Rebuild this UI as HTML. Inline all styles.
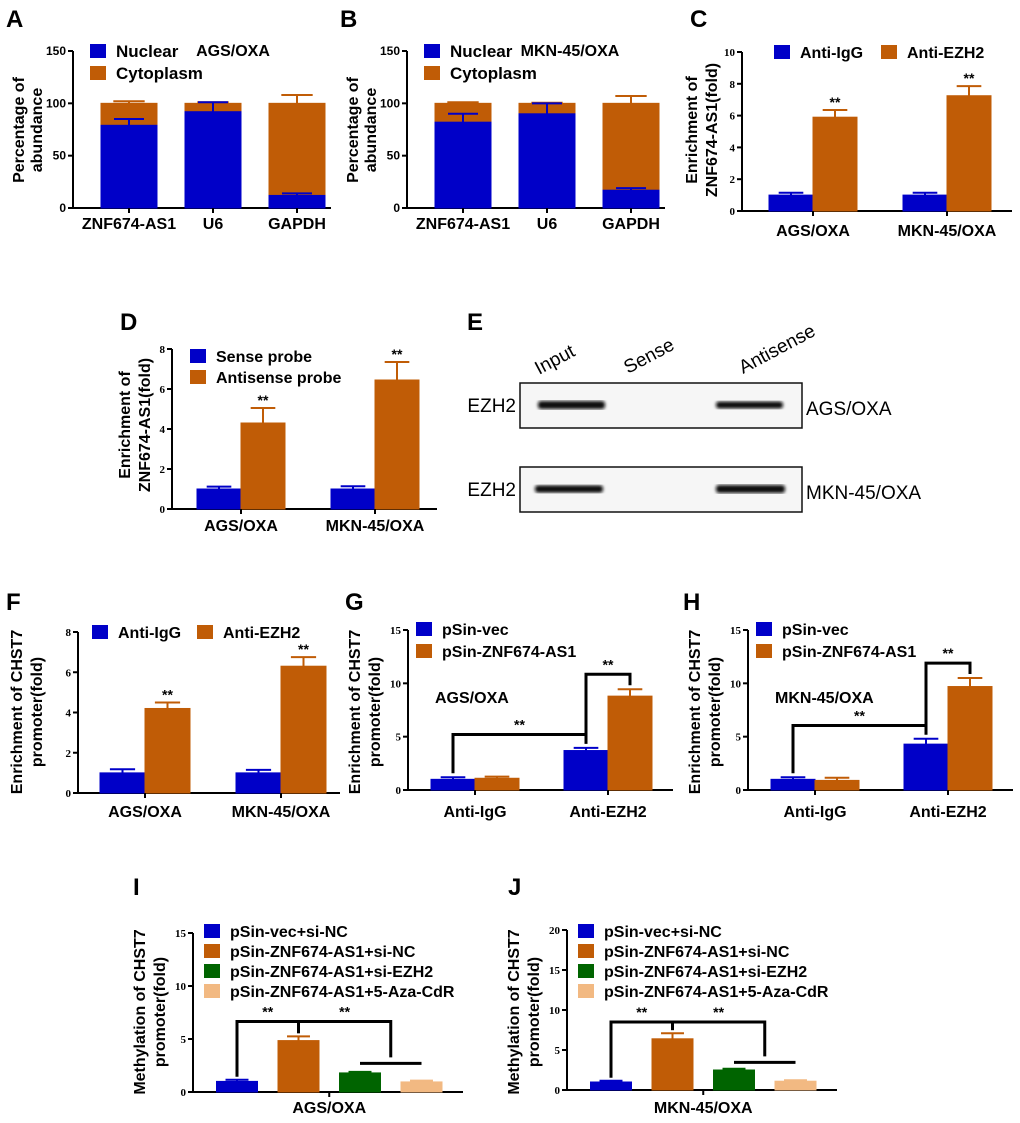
<!DOCTYPE html>
<html><head><meta charset="utf-8"><style>
html,body{margin:0;padding:0;background:#fff;}
svg{display:block;font-family:"Liberation Sans",Arial,sans-serif;}
</style></head><body>
<svg id="fig" width="1020" height="1123" viewBox="0 0 1020 1123" xmlns="http://www.w3.org/2000/svg"></svg>
<script>
// ---- data ----
const abCats = ["ZNF674-AS1","U6","GAPDH"];
const aNuclear = [79, 92, 12];
const aNucErr = [6, 9, 2];
const aCytErr = [2, 1, 8];
const bNuclear = [82, 90, 17];
const bNucErr = [8, 10, 2];
const bCytErr = [1, 0.5, 7];
const abTicks = [0,50,100,150];

const cellCats = ["AGS/OXA","MKN-45/OXA"];
const cIgG = [1, 1];  const cIgGErr = [0.15, 0.15];
const cEZH2 = [5.9, 7.25]; const cEZH2Err = [0.45, 0.6];
const cTicks = [0,2,4,6,8,10];

const dSense = [1, 1]; const dSenseErr = [0.12, 0.14];
const dAnti = [4.3, 6.45]; const dAntiErr = [0.75, 0.9];
const dTicks = [0,2,4,6,8];

const fIgG = [1, 1]; const fIgGErr = [0.18, 0.15];
const fEZH2 = [4.2, 6.3]; const fEZH2Err = [0.3, 0.45];
const fTicks = [0,2,4,6,8];

const ghCats = ["Anti-IgG","Anti-EZH2"];
const gVec = [1, 3.7]; const gVecErr = [0.2, 0.25];
const gZnf = [1.1, 8.8]; const gZnfErr = [0.15, 0.65];
const hVec = [1, 4.3]; const hVecErr = [0.2, 0.5];
const hZnf = [0.9, 9.7]; const hZnfErr = [0.25, 0.8];
const ghTicks = [0,5,10,15];

const ijSeries = ["pSin-vec+si-NC","pSin-ZNF674-AS1+si-NC","pSin-ZNF674-AS1+si-EZH2","pSin-ZNF674-AS1+5-Aza-CdR"];
const iVals = [1.0, 4.85, 1.8, 0.95]; const iErr = [0.15, 0.4, 0.1, 0.12];
const jVals = [1.0, 6.4, 2.5, 1.1]; const jErr = [0.15, 0.7, 0.15, 0.12];
const iTicks = [0,5,10,15];
const jTicks = [0,5,10,15,20];

// ---- helpers ----
const NS="http://www.w3.org/2000/svg";
const svg=document.getElementById('fig');
const BLUE="#0000c8", ORANGE="#c05c06", GREEN="#006400", PEACH="#f2b982";
function el(tag,attrs,parent){const e=document.createElementNS(NS,tag);for(const k in attrs)e.setAttribute(k,attrs[k]);(parent||svg).appendChild(e);return e;}
function txt(s,x,y,size,opts,parent){opts=opts||{};const t=el('text',{x:x,y:y,'font-size':size,'font-weight':opts.w||'bold','text-anchor':opts.a||'middle',fill:'#000','font-family':opts.f||'"Liberation Sans",Arial,sans-serif'},parent);if(opts.r)t.setAttribute('transform','rotate('+opts.r+' '+x+' '+y+')');t.textContent=s;return t;}
function line(x1,y1,x2,y2,w,c,parent){return el('line',{x1:x1,y1:y1,x2:x2,y2:y2,stroke:c||'#000','stroke-width':w||2},parent);}
function yScale(y0,yTop,max){return v=>y0-(v/max)*(y0-yTop);}
function axes(g,x0,x1,y0,yTop,max,ticks,serif){
  const ys=yScale(y0,yTop,max);
  line(x0,yTop,x0,y0+1,2,'#000',g);
  line(x0-1,y0,x1,y0,2,'#000',g);
  ticks.forEach(t=>{const y=ys(t);line(x0-5,y,x0,y,2,'#000',g);
    const tl=txt(String(t),x0-7,y+4,serif?11:12,{a:'end',f:serif?'"Liberation Serif",serif':undefined},g);
    
    });
  return ys;
}
function bar(g,x,w,yv,ys,y0,color,err,name){
  const r=el('rect',{x:x,y:ys(yv),width:w,height:y0-ys(yv),fill:color,stroke:color,'stroke-width':1},g);
  
  
  if(err){const cx=x+w/2, ye=ys(yv+err);line(cx,ys(yv),cx,ye,2,color,g);line(cx-w*0.28,ye,cx+w*0.28,ye,2,color,g);}
  return r;
}
function legendEntry(g,x,y,color,label,size){
  const r=el('rect',{x:x,y:y,width:16,height:14,fill:color},g);
  
  
  const t=txt(label,x+26,y+13,size||16,{a:'start'},g);
  
  
}
function panelLetter(s,x,y){const t=txt(s,x,y,24,{a:'start'});}
function yTitle(g,lines,xs,cy,size){lines.forEach((s,i)=>{const t=txt(s,xs[i],cy,size||16,{r:-90},g);});}
function xLabels(g,cats,centers,y){cats.forEach((c,i)=>{const t=txt(c,centers[i],y,16,{},g);});}
function group(name){const g=el('g',{});return g;}

// ---- Panels A/B (stacked) ----
function stacked(name,x0,nuc,nucErr,cytErr,title,titleX,ytx){
  const g=group(name);
  const y0=208,yTop=51,x1=x0+258;
  const ys=axes(g,x0,x1,y0,yTop,150,abTicks,false);
  const centers=abCats.map((c,i)=>x0+56+i*84), w=56;
  abCats.forEach((c,i)=>{
    bar(g,centers[i]-w/2,w,100,ys,y0,ORANGE,cytErr[i],'bar-cytoplasm');
    bar(g,centers[i]-w/2,w,nuc[i],ys,y0,BLUE,null,'bar-nuclear');
    const cx=centers[i],ye=ys(nuc[i]+nucErr[i]);
    line(cx,ys(nuc[i]),cx,ye,2,BLUE,g);line(cx-15,ye,cx+15,ye,2,BLUE,g);
    line(cx,y0,cx,y0+5,2,'#000',g);
  });
  xLabels(g,abCats,centers,229);
  legendEntry(g,x0+17,44,BLUE,'Nuclear',17);
  legendEntry(g,x0+17,66,ORANGE,'Cytoplasm',17);
  const t=txt(title,titleX,56,16,{},g);
  yTitle(g,['Percentage of','abundance'],ytx,130,16);
  return g;
}
panelLetter('A',6,27);
stacked('panel-a',73,aNuclear,aNucErr,aCytErr,'AGS/OXA',233,[24,42]);
panelLetter('B',340,27);
stacked('panel-b',407,bNuclear,bNucErr,bCytErr,'MKN-45/OXA',570,[358,376]);

// ---- Grouped two-series panels ----
function grouped(name,cfg){
  const g=group(name);
  const ys=axes(g,cfg.x0,cfg.x1,cfg.y0,cfg.yTop,cfg.max,cfg.ticks,true);
  cfg.cats.forEach((c,i)=>{
    const cx=cfg.c0+i*cfg.step;
    bar(g,cx-cfg.w,cfg.w,cfg.s1[i],ys,cfg.y0,BLUE,cfg.e1[i],'bar-series1');
    bar(g,cx,cfg.w,cfg.s2[i],ys,cfg.y0,ORANGE,cfg.e2[i],'bar-series2');
    line(cx,cfg.y0,cx,cfg.y0+5,2,'#000',g);
    if(cfg.stars){const st=txt('**',cx+cfg.w/2,ys(cfg.s2[i]+cfg.e2[i])-3,14,{},g);}
  });
  xLabels(g,cfg.cats,cfg.cats.map((c,i)=>cfg.c0+i*cfg.step),cfg.xly);
  cfg.leg.forEach(l=>legendEntry(g,l[0],l[1],l[2],l[3],l[4]||16));
  yTitle(g,cfg.yt,cfg.ytx,cfg.ytcy,16);
  return {g:g,ys:ys};
}
panelLetter('C',690,27);
grouped('panel-c',{x0:742,x1:1012,y0:211,yTop:52,max:10,ticks:cTicks,cats:cellCats,c0:813,step:134,w:44,s1:cIgG,e1:cIgGErr,s2:cEZH2,e2:cEZH2Err,stars:true,xly:236,
  leg:[[774,45,BLUE,'Anti-IgG'],[881,45,ORANGE,'Anti-EZH2']],yt:['Enrichment of','ZNF674-AS1(fold)'],ytx:[697,717],ytcy:130});

panelLetter('D',120,330);
grouped('panel-d',{x0:172,x1:437,y0:509,yTop:349,max:8,ticks:dTicks,cats:cellCats,c0:241,step:134,w:44,s1:dSense,e1:dSenseErr,s2:dAnti,e2:dAntiErr,stars:true,xly:531,
  leg:[[190,349,BLUE,'Sense probe'],[190,370,ORANGE,'Antisense probe']],yt:['Enrichment of','ZNF674-AS1(fold)'],ytx:[130,150],ytcy:425});

panelLetter('F',6,610);
grouped('panel-f',{x0:78,x1:340,y0:793,yTop:632,max:8,ticks:fTicks,cats:cellCats,c0:145,step:136,w:45,s1:fIgG,e1:fIgGErr,s2:fEZH2,e2:fEZH2Err,stars:true,xly:817,
  leg:[[92,625,BLUE,'Anti-IgG'],[197,625,ORANGE,'Anti-EZH2']],yt:['Enrichment of CHST7','promoter(fold)'],ytx:[22,42],ytcy:712});

function ghPanel(name,x0,vec,vecE,znf,znfE,label,ytx){
  const r=grouped(name,{x0:x0,x1:x0+265,y0:790,yTop:630,max:15,ticks:ghTicks,cats:ghCats,c0:x0+67,step:133,w:44,s1:vec,e1:vecE,s2:znf,e2:znfE,stars:false,xly:817,
    leg:[[x0+8,622,BLUE,'pSin-vec'],[x0+8,644,ORANGE,'pSin-ZNF674-AS1']],yt:['Enrichment of CHST7','promoter(fold)'],ytx:ytx,ytcy:712});
  const g=r.g,ys=r.ys;
  const t=txt(label,x0+27,703,16,{a:'start'},g);
  const xA=x0+45, xB=x0+178;
  const yBr=ys(Math.max(vec[1]+vecE[1],vec[0]+vecE[0])+1.25);
  const br1=el('polyline',{points:`${xA},${ys(vec[0]+vecE[0])-4} ${xA},${yBr} ${xB},${yBr} ${xB},${ys(vec[1]+vecE[1])-4}`,fill:'none',stroke:'#000','stroke-width':3},g);
  
  
  const s1=txt('**',(xA+xB)/2,yBr-5,14,{},g);
  const yBr2=ys(znf[1]+znfE[1]+1.4), xC=x0+222;
  const br2=el('polyline',{points:`${xB},${yBr+2} ${xB},${yBr2} ${xC},${yBr2} ${xC},${ys(znf[1]+znfE[1])-4}`,fill:'none',stroke:'#000','stroke-width':3},g);
  
  
  const s2=txt('**',(xB+xC)/2,yBr2-5,14,{},g);
}
panelLetter('G',345,610);
ghPanel('panel-g',408,gVec,gVecErr,gZnf,gZnfErr,'AGS/OXA',[360,380]);
panelLetter('H',683,610);
ghPanel('panel-h',748,hVec,hVecErr,hZnf,hZnfErr,'MKN-45/OXA',[700,720]);

// ---- Panels I/J ----
function ijPanel(name,x0,y0,yTop,vals,errs,ticks,max,label){
  const g=group(name);
  const ys=axes(g,x0,x0+270,y0,yTop,max,ticks,true);
  const colors=[BLUE,ORANGE,GREEN,PEACH];
  const centers=vals.map((v,i)=>x0+44+i*61.5);
  vals.forEach((v,i)=>bar(g,centers[i]-20.5,41,v,ys,y0,colors[i],errs[i],'bar-'+(i+1)));
  const mid=(centers[1]+centers[2])/2;
  line(mid,y0,mid,y0+5,2,'#000',g);
  const t=txt(label,mid,1113,16,{},g);
  ijSeries.forEach((s,i)=>legendEntry(g,x0+11,924+i*20,colors[i],s,16));
  const yTopBr=ys(Math.max(vals[0]+errs[0],vals[1]+errs[1])+1.4);
  const yLow=ys(vals[2]+errs[2]+0.8);
  const xR=(centers[2]+centers[3])/2;
  const br=el('polyline',{points:`${centers[0]},${ys(vals[0]+errs[0])-3} ${centers[0]},${yTopBr} ${xR},${yTopBr} ${xR},${yLow-6}`,fill:'none',stroke:'#000','stroke-width':3},g);
  
  
  line(centers[1],yTopBr,centers[1],ys(vals[1]+errs[1])-3,3,'#000',g);
  const lw=line(centers[2],yLow,centers[3],yLow,3,'#000',g);
  
  
  [(centers[0]+centers[1])/2,(centers[1]+xR)/2].forEach(x=>{const st=txt('**',x,yTopBr-5,14,{},g);});
  yTitle(g,['Methylation of CHST7','promoter(fold)'],[x0-48,x0-28],1012,16);
}
panelLetter('I',133,895);
ijPanel('panel-i',193,1092,933,iVals,iErr,iTicks,15,'AGS/OXA');
panelLetter('J',508,895);
ijPanel('panel-j',567,1090,930,jVals,jErr,jTicks,20,'MKN-45/OXA');

// ---- Panel E (western blot) ----
(function(){
  const g=group('panel-e');
  panelLetter('E',467,330);
  const defs=el('defs',{},g);
  const gr=el('filter',{id:'blur'},defs);el('feGaussianBlur',{stdDeviation:'1.6'},gr);
  [['Input',574,375],['Sense',663,374],['Antisense',778,374]].forEach(c=>{const t=txt(c[0],c[1]-35,c[2],19,{w:'normal',a:'start'},g);t.setAttribute('transform','rotate(-28 '+(c[1]-35)+' '+c[2]+')');});
  [[383,'AGS/OXA',[[538,605,4],[716,783,3]]],[467,'MKN-45/OXA',[[535,603,3.5],[716,785,4]]]].forEach(b=>{
    const y=b[0];
    const box=el('rect',{x:520,y:y,width:282,height:45,fill:'#f6f6f6',stroke:'#111','stroke-width':1.5},g);
    
    
    b[2].forEach(bd=>{const e=el('rect',{x:bd[0],y:y+22-bd[2]/2-2,width:bd[1]-bd[0],height:bd[2]+4,rx:3,fill:'#111',filter:'url(#blur)'},g);});
    const l=txt('EZH2',516,y+29,19,{w:'normal',a:'end'},g);
    const r=txt(b[1],806,y+32,19,{w:'normal',a:'start'},g);
  });
})();
</script>
</body></html>
